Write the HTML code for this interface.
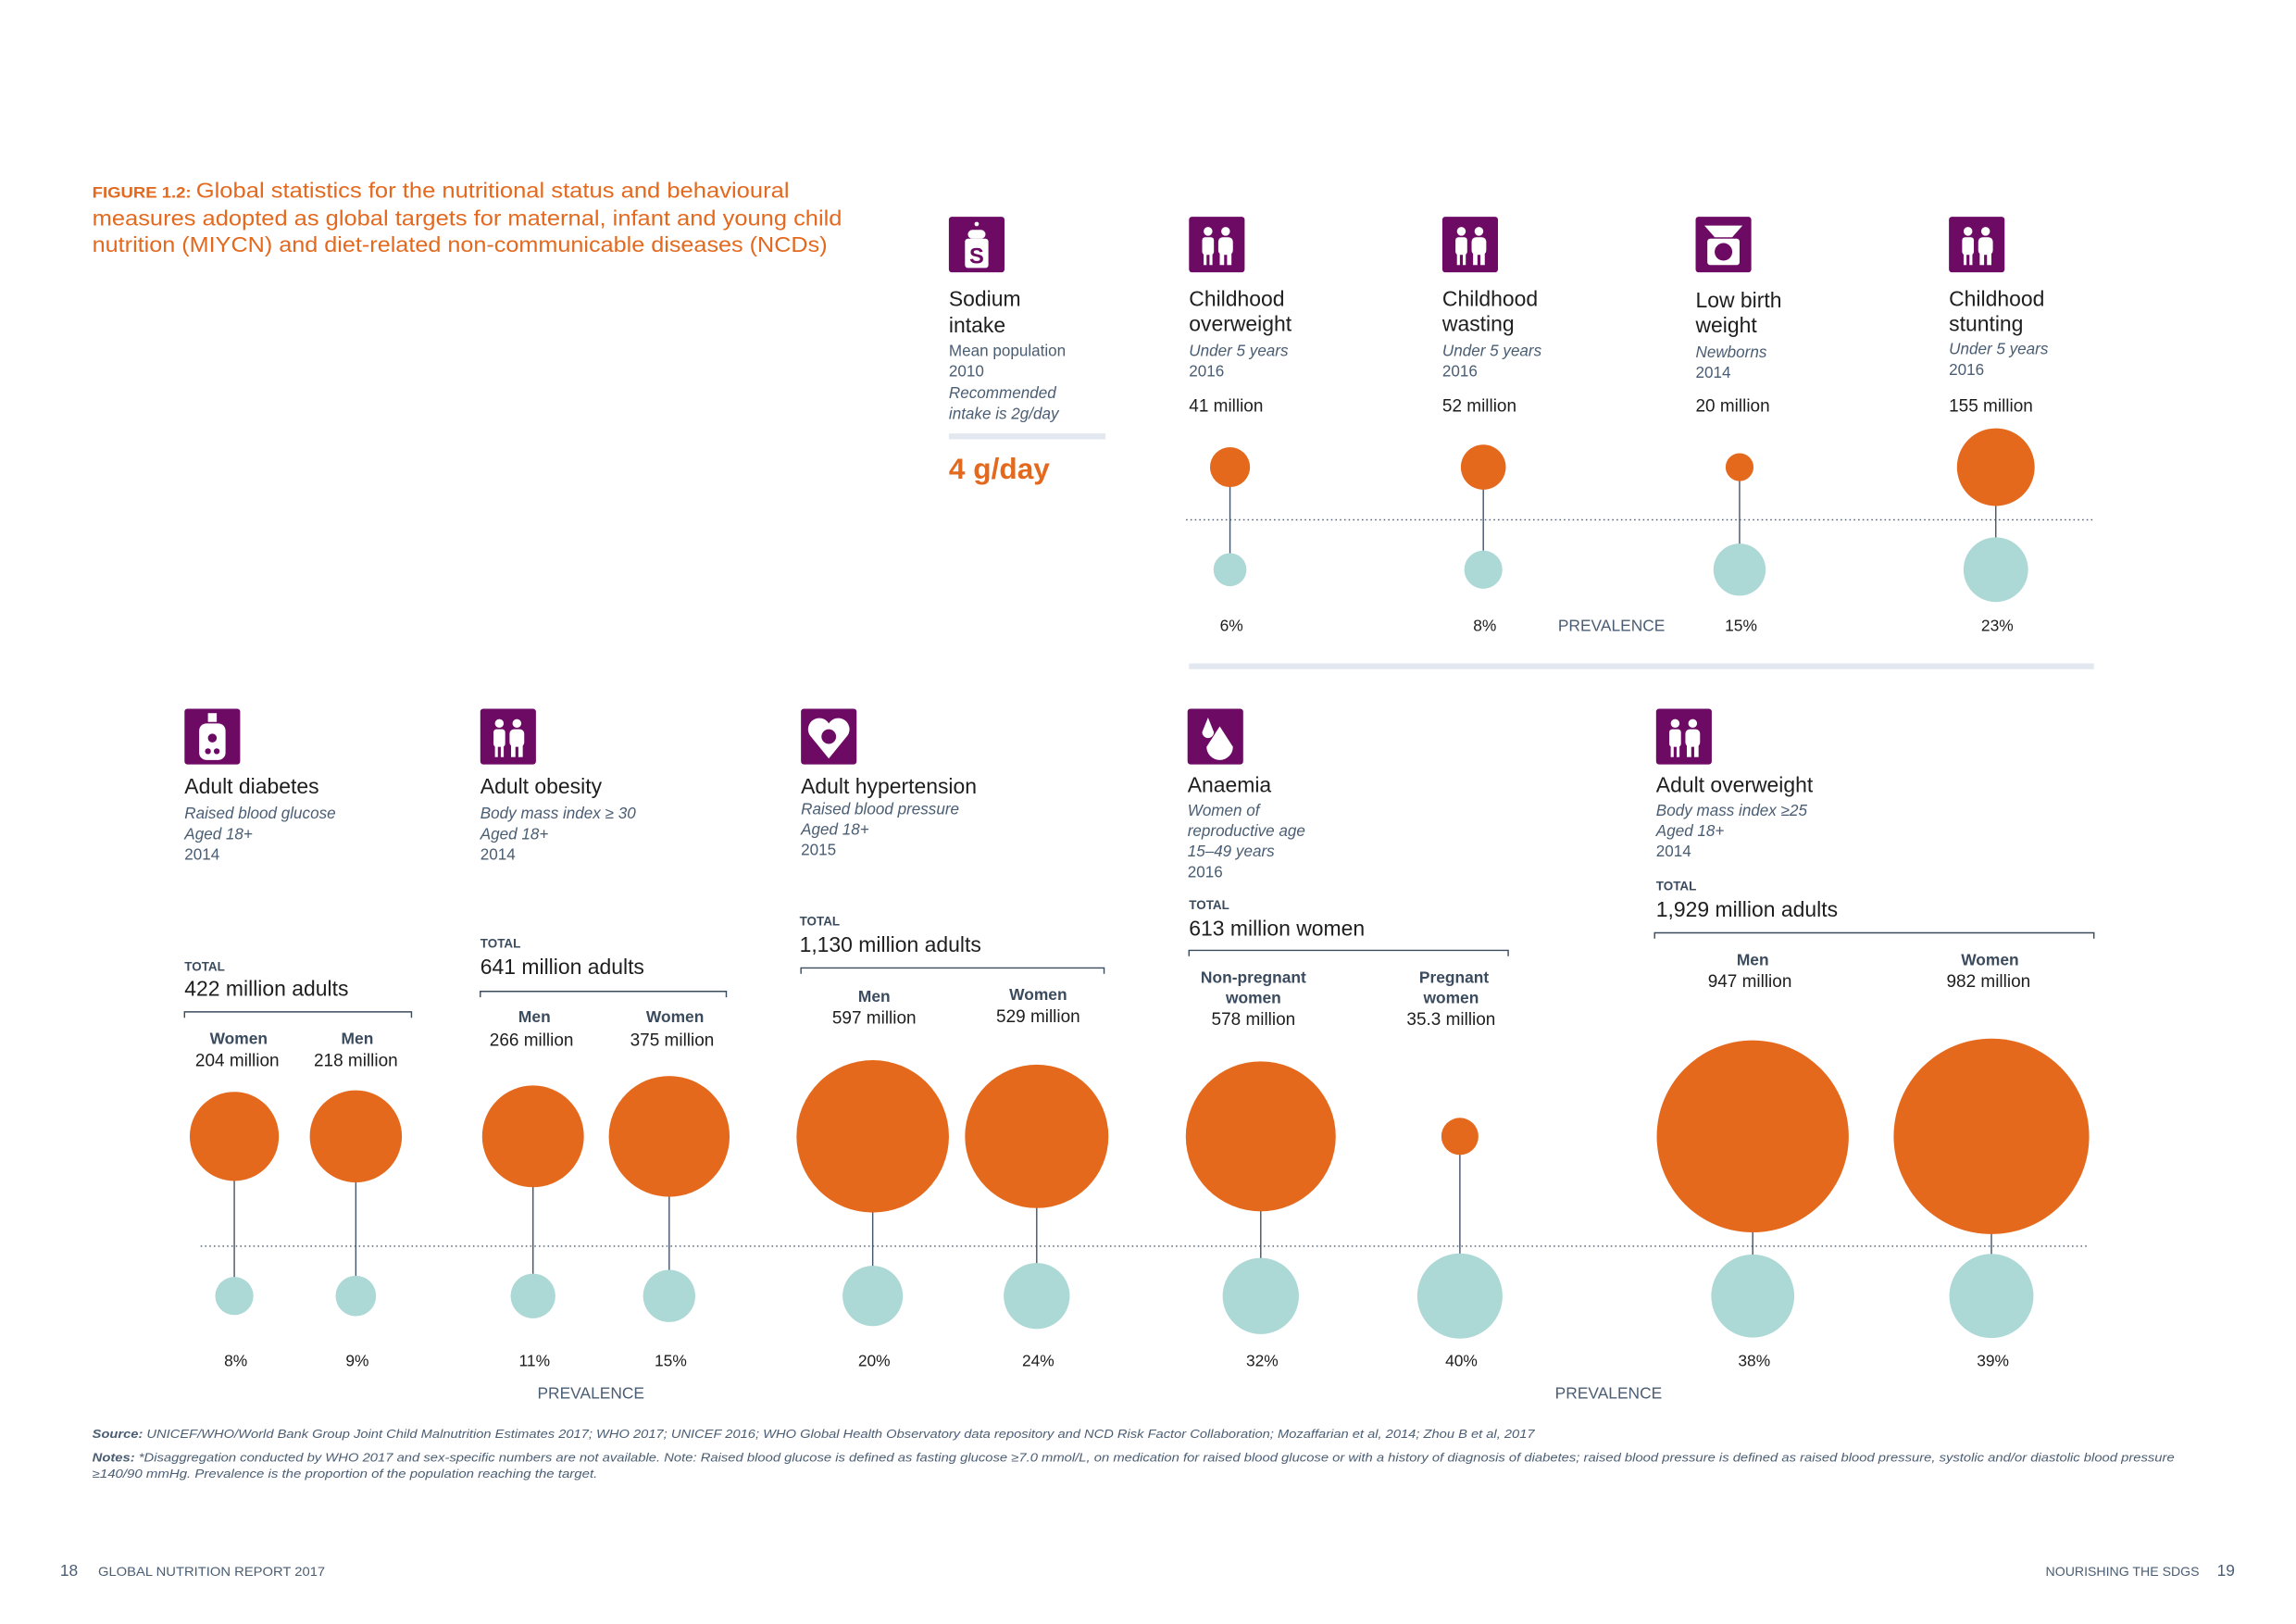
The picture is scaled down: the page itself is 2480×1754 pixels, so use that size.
<!DOCTYPE html>
<html><head><meta charset="utf-8">
<style>
html,body{margin:0;padding:0;background:#fff;}
svg{display:block;}
text{font-family:"Liberation Sans",sans-serif;}
.t{font-size:14.5px;fill:#1e1e1e;}
.s{font-size:10.8px;fill:#4a5d73;font-style:italic;}
.y{font-size:10.8px;fill:#4a5d73;}
.v{font-size:12px;fill:#1e1e1e;}
.tot{font-size:8.5px;fill:#3b4b5e;font-weight:bold;}
.big{font-size:14.5px;fill:#1e1e1e;}
.lab{font-size:11px;fill:#3b4b5e;font-weight:bold;}
.pct{font-size:11px;fill:#1e1e1e;}
.prev{font-size:11px;fill:#4a5d73;}
</style></head>
<body>
<svg id="chart" width="2480" height="1754" viewBox="0 0 1568 1109" xmlns="http://www.w3.org/2000/svg">
<g fill="#e3691f" font-size="14.5">
<text x="63" y="135" textLength="476" lengthAdjust="spacingAndGlyphs"><tspan font-size="10.5" font-weight="bold">FIGURE 1.2: </tspan>Global statistics for the nutritional status and behavioural</text>
<text x="63" y="154" textLength="512" lengthAdjust="spacingAndGlyphs">measures adopted as global targets for maternal, infant and young child</text>
<text x="63" y="172" textLength="502" lengthAdjust="spacingAndGlyphs">nutrition (MIYCN) and diet-related non-communicable diseases (NCDs)</text>
</g>

<g id="icons" fill="#6d0a64"></g>

<g>
<text class="t" x="648" y="209">Sodium</text><text class="t" x="648" y="227">intake</text>
<text class="y" x="648" y="243">Mean population</text><text class="y" x="648" y="257">2010</text>
<text class="s" x="648" y="272">Recommended</text><text class="s" x="648" y="286">intake is 2g/day</text>
<rect x="648" y="296" width="107" height="4" fill="#e3e8f0"/>
<text x="648" y="327" font-size="20" font-weight="bold" fill="#e3691f">4 g/day</text>
</g>
<g>
<text class="t" x="812" y="209">Childhood</text><text class="t" x="812" y="226">overweight</text>
<text class="s" x="812" y="243">Under 5 years</text><text class="y" x="812" y="257">2016</text>
<text class="v" x="812" y="281">41 million</text>
<text class="t" x="985" y="209">Childhood</text><text class="t" x="985" y="226">wasting</text>
<text class="s" x="985" y="243">Under 5 years</text><text class="y" x="985" y="257">2016</text>
<text class="v" x="985" y="281">52 million</text>
<text class="t" x="1158" y="210">Low birth</text><text class="t" x="1158" y="227">weight</text>
<text class="s" x="1158" y="244">Newborns</text><text class="y" x="1158" y="258">2014</text>
<text class="v" x="1158" y="281">20 million</text>
<text class="t" x="1331" y="209">Childhood</text><text class="t" x="1331" y="226">stunting</text>
<text class="s" x="1331" y="242">Under 5 years</text><text class="y" x="1331" y="256">2016</text>
<text class="v" x="1331" y="281">155 million</text>
</g>
<line x1="810" y1="355" x2="1430" y2="355" stroke="#4a5d73" stroke-width="0.9" stroke-dasharray="1,2"/>
<text class="prev" x="1064" y="431">PREVALENCE</text>
<rect x="812" y="453" width="618" height="4" fill="#e3e8f0"/>

<g>
<text class="t" x="126" y="542">Adult diabetes</text>
<text class="s" x="126" y="559">Raised blood glucose</text><text class="s" x="126" y="573">Aged 18+</text><text class="y" x="126" y="587">2014</text>
<text class="tot" x="126" y="663">TOTAL</text><text class="big" x="126" y="680">422 million adults</text>
<path d="M126,695 V691 H281 V695" fill="none" stroke="#3b4b5e" stroke-width="0.9"/>
<text class="lab" x="163" y="713" text-anchor="middle">Women</text><text class="v" x="162" y="728" text-anchor="middle">204 million</text>
<text class="lab" x="244" y="713" text-anchor="middle">Men</text><text class="v" x="243" y="728" text-anchor="middle">218 million</text>

<text class="t" x="328" y="542">Adult obesity</text>
<text class="s" x="328" y="559">Body mass index ≥ 30</text><text class="s" x="328" y="573">Aged 18+</text><text class="y" x="328" y="587">2014</text>
<text class="tot" x="328" y="647">TOTAL</text><text class="big" x="328" y="665">641 million adults</text>
<path d="M328,681 V677 H496 V681" fill="none" stroke="#3b4b5e" stroke-width="0.9"/>
<text class="lab" x="365" y="698" text-anchor="middle">Men</text><text class="v" x="363" y="714" text-anchor="middle">266 million</text>
<text class="lab" x="461" y="698" text-anchor="middle">Women</text><text class="v" x="459" y="714" text-anchor="middle">375 million</text>

<text class="t" x="547" y="542">Adult hypertension</text>
<text class="s" x="547" y="556">Raised blood pressure</text><text class="s" x="547" y="570">Aged 18+</text><text class="y" x="547" y="584">2015</text>
<text class="tot" x="546" y="632">TOTAL</text><text class="big" x="546" y="650">1,130 million adults</text>
<path d="M547,665 V661 H754 V665" fill="none" stroke="#3b4b5e" stroke-width="0.9"/>
<text class="lab" x="597" y="684" text-anchor="middle">Men</text><text class="v" x="597" y="699" text-anchor="middle">597 million</text>
<text class="lab" x="709" y="683" text-anchor="middle">Women</text><text class="v" x="709" y="698" text-anchor="middle">529 million</text>

<text class="t" x="811" y="541">Anaemia</text>
<text class="s" x="811" y="557">Women of</text><text class="s" x="811" y="571">reproductive age</text><text class="s" x="811" y="585">15–49 years</text><text class="y" x="811" y="599">2016</text>
<text class="tot" x="812" y="621">TOTAL</text><text class="big" x="812" y="639">613 million women</text>
<path d="M812,653 V649 H1030 V653" fill="none" stroke="#3b4b5e" stroke-width="0.9"/>
<text class="lab" x="856" y="671" text-anchor="middle">Non-pregnant</text><text class="lab" x="856" y="685" text-anchor="middle">women</text><text class="v" x="856" y="700" text-anchor="middle">578 million</text>
<text class="lab" x="993" y="671" text-anchor="middle">Pregnant</text><text class="lab" x="991" y="685" text-anchor="middle">women</text><text class="v" x="991" y="700" text-anchor="middle">35.3 million</text>

<text class="t" x="1131" y="541">Adult overweight</text>
<text class="s" x="1131" y="557">Body mass index ≥25</text><text class="s" x="1131" y="571">Aged 18+</text><text class="y" x="1131" y="585">2014</text>
<text class="tot" x="1131" y="608">TOTAL</text><text class="big" x="1131" y="626">1,929 million adults</text>
<path d="M1130,641 V637 H1430 V641" fill="none" stroke="#3b4b5e" stroke-width="0.9"/>
<text class="lab" x="1197" y="659" text-anchor="middle">Men</text><text class="v" x="1195" y="674" text-anchor="middle">947 million</text>
<text class="lab" x="1359" y="659" text-anchor="middle">Women</text><text class="v" x="1358" y="674" text-anchor="middle">982 million</text>
</g>
<line x1="137" y1="851" x2="1427" y2="851" stroke="#4a5d73" stroke-width="0.9" stroke-dasharray="1,2"/>
<text class="prev" x="367" y="955">PREVALENCE</text>
<text class="prev" x="1062" y="955">PREVALENCE</text>

<g id="marks"></g>

<g font-size="8" fill="#4a5d73" font-style="italic">
<text x="63" y="982" textLength="985" lengthAdjust="spacingAndGlyphs"><tspan font-weight="bold">Source:</tspan> UNICEF/WHO/World Bank Group Joint Child Malnutrition Estimates 2017; WHO 2017; UNICEF 2016; WHO Global Health Observatory data repository and NCD Risk Factor Collaboration; Mozaffarian et al, 2014; Zhou B et al, 2017</text>
<text x="63" y="998" textLength="1422" lengthAdjust="spacingAndGlyphs"><tspan font-weight="bold">Notes:</tspan> *Disaggregation conducted by WHO 2017 and sex-specific numbers are not available. Note: Raised blood glucose is defined as fasting glucose ≥7.0 mmol/L, on medication for raised blood glucose or with a history of diagnosis of diabetes; raised blood pressure is defined as raised blood pressure, systolic and/or diastolic blood pressure</text>
<text x="63" y="1009" textLength="345" lengthAdjust="spacingAndGlyphs">≥140/90 mmHg. Prevalence is the proportion of the population reaching the target.</text>
</g>
<g fill="#4a5d73">
<text x="41" y="1076" font-size="11">18</text>
<text x="67" y="1076" font-size="8.5" textLength="155" lengthAdjust="spacingAndGlyphs">GLOBAL NUTRITION REPORT 2017</text>
<text x="1397" y="1076" font-size="8.5" textLength="105" lengthAdjust="spacingAndGlyphs">NOURISHING THE SDGS</text>
<text x="1514" y="1076" font-size="11">19</text>
</g>
</svg>
<script>
// ---- data ----
const childCategories = ["Childhood overweight","Childhood wasting","Low birth weight","Childhood stunting"];
const childMillions = [41, 52, 20, 155];
const childPrevalence = [6, 8, 15, 23];
const adultCategories = ["Diabetes women","Diabetes men","Obesity men","Obesity women","Hypertension men","Hypertension women","Anaemia non-pregnant","Anaemia pregnant","Overweight men","Overweight women"];
const adultMillions = [204, 218, 266, 375, 597, 529, 578, 35.3, 947, 982];
const adultPrevalence = [8, 9, 11, 15, 20, 24, 32, 40, 38, 39];

// ---- layout ----
const childX = [840, 1013, 1188, 1363];
const adultX = [160, 243, 364, 457, 596, 708, 861, 997, 1197, 1360];
const NS = "http://www.w3.org/2000/svg";
const rMillions = v => 2.13 * Math.sqrt(v);
const rPct = v => 4.6 * Math.sqrt(v);
const marks = document.getElementById('marks');
function mk(tag, attrs){const e=document.createElementNS(NS,tag);for(const k in attrs)e.setAttribute(k,attrs[k]);marks.appendChild(e);return e;}

function drawRow(cats, mil, pct, xs, orangeY, tealY, labelY){
  cats.forEach((c,i)=>{
    const ro=rMillions(mil[i]), rt=rPct(pct[i]);
    const oy = orangeY, ty = tealY;
    const ln=mk('line',{x1:xs[i],y1:oy,x2:xs[i],y2:ty,stroke:'#46566a','stroke-width':0.9});
    
    
    const co=mk('circle',{cx:xs[i],cy:oy,r:ro,fill:'#e5691d'});
    
    
    const ct=mk('circle',{cx:xs[i],cy:ty,r:rt,fill:'#acd8d6'});
    
    
    const t=mk('text',{x:xs[i]+1,y:labelY,'text-anchor':'middle','class':'pct'});
    t.textContent=pct[i]+'%';
    
    
  });
}
drawRow(childCategories, childMillions, childPrevalence, childX, 319, 389, 431);
drawRow(adultCategories, adultMillions, adultPrevalence, adultX, 776, 885, 933);

// ---- icons ----
const icons=document.getElementById('icons');
const iconPos=[[648,148,'sodium'],[812,148,'people'],[985,148,'people'],[1158,148,'scale'],[1331,148,'people'],[126,484,'diabetes'],[328,484,'people'],[547,484,'heart'],[811,484,'drop'],[1131,484,'people']];
iconPos.forEach(p=>{
  const g=document.createElementNS(NS,'g');
  
  
  const [x,y]=p;
  let inner=`<rect x="${x}" y="${y}" width="38" height="38" rx="2" fill="#6d0a64"/>`;
  if(p[2]==='people'){
    inner+=`<g fill="#fff"><circle cx="${x+13}" cy="${y+10}" r="3"/><rect x="${x+9}" y="${y+14}" width="8" height="12" rx="2"/><rect x="${x+10}" y="${y+24}" width="2" height="9"/><rect x="${x+14}" y="${y+24}" width="2" height="9"/><circle cx="${x+25}" cy="${y+10}" r="3"/><rect x="${x+20}" y="${y+14}" width="10" height="12" rx="3"/><rect x="${x+21}" y="${y+24}" width="3" height="9"/><rect x="${x+26}" y="${y+24}" width="3" height="9"/></g>`;
  } else if(p[2]==='sodium'){
    inner+=`<g fill="#fff"><circle cx="${x+19}" cy="${y+5}" r="1.5"/><rect x="${x+13}" y="${y+9}" width="12" height="6" rx="3"/><rect x="${x+11}" y="${y+15}" width="16" height="20" rx="2"/></g><text x="${x+19}" y="${y+32}" text-anchor="middle" font-size="15" font-weight="bold" fill="#6d0a64">S</text>`;
  } else if(p[2]==='scale'){
    inner+=`<g fill="#fff"><path d="M${x+6},${y+6} H${x+32} L${x+25},${y+14} H${x+13} Z"/><rect x="${x+8}" y="${y+15}" width="22" height="18" rx="2"/></g><circle cx="${x+19}" cy="${y+24}" r="6" fill="#6d0a64"/>`;
  } else if(p[2]==='diabetes'){
    inner+=`<g fill="#fff"><rect x="${x+16}" y="${y+3}" width="6" height="6"/><rect x="${x+10}" y="${y+10}" width="18" height="25" rx="5"/></g><circle cx="${x+19}" cy="${y+20}" r="3" fill="#6d0a64"/><circle cx="${x+16}" cy="${y+29}" r="2" fill="#6d0a64"/><circle cx="${x+22}" cy="${y+29}" r="2" fill="#6d0a64"/>`;
  } else if(p[2]==='heart'){
    inner+=`<path d="M${x+19},${y+34} L${x+6},${y+18} A7,7 0 0 1 ${x+19},${y+10} A7,7 0 0 1 ${x+32},${y+18} Z" fill="#fff"/><circle cx="${x+19}" cy="${y+19}" r="5" fill="#6d0a64"/>`;
  } else if(p[2]==='drop'){
    inner+=`<g fill="#fff"><path d="M${x+14},${y+6} L${x+10},${y+16} A4,4 0 0 0 ${x+18},${y+16} Z"/><path d="M${x+22},${y+12} L${x+13},${y+26} A9,9 0 0 0 ${x+31},${y+26} Z"/></g>`;
  }
  g.innerHTML=inner;
  icons.appendChild(g);
});
</script>
</body></html>
